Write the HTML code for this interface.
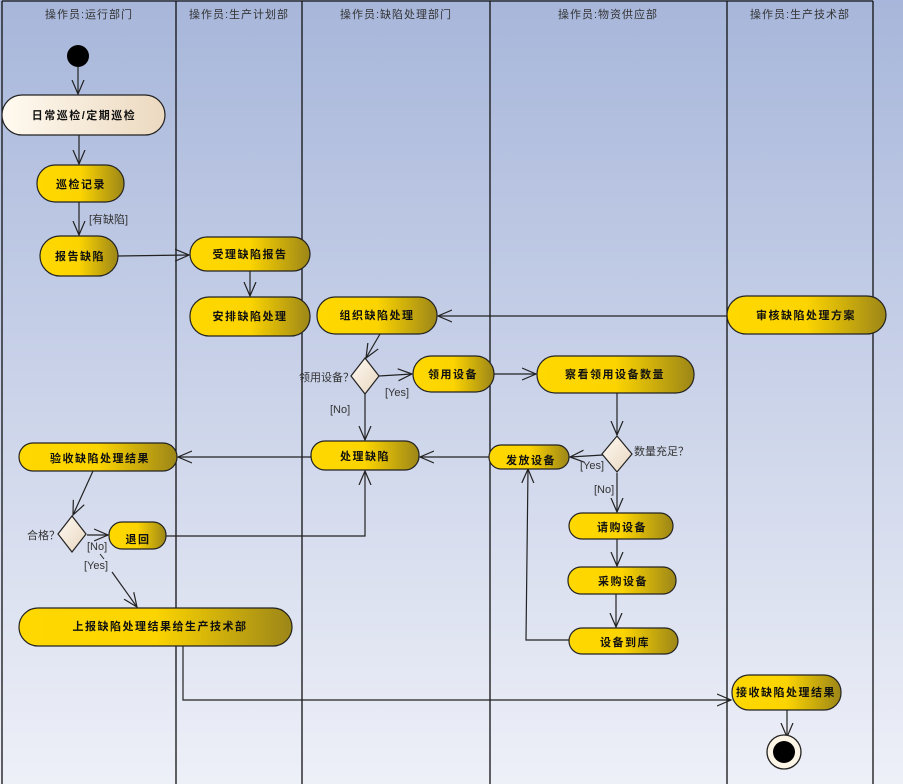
<!DOCTYPE html>
<html><head><meta charset="utf-8"><style>
html,body{margin:0;padding:0;width:903px;height:784px;overflow:hidden}
svg{display:block}
text{font-family:"Liberation Sans","Noto Sans CJK SC",sans-serif}
.n{font-size:11px;font-weight:bold;fill:#111;text-anchor:middle;letter-spacing:1.5px}
.h{font-size:11px;fill:#333;text-anchor:middle;letter-spacing:1px}
.l{font-size:11px;fill:#333}
.e{stroke:#222;stroke-width:1.2;fill:none;marker-end:url(#a)}
</style></head><body>
<svg width="903" height="784" viewBox="0 0 903 784">
<defs>
<linearGradient id="bg" x1="0" y1="0" x2="0" y2="1"><stop offset="0" stop-color="#a7b6da"/><stop offset="1" stop-color="#eef0f8"/></linearGradient>
<linearGradient id="y" x1="0" y1="0" x2="1" y2="0"><stop offset="0" stop-color="#ffd800"/><stop offset="0.5" stop-color="#fcd400"/><stop offset="1" stop-color="#9c8618"/></linearGradient>
<linearGradient id="c" x1="0" y1="0" x2="1" y2="0"><stop offset="0" stop-color="#fffaf0"/><stop offset="1" stop-color="#ecd9c0"/></linearGradient>
<linearGradient id="d" x1="0" y1="0" x2="1" y2="1"><stop offset="0" stop-color="#fffaf2"/><stop offset="1" stop-color="#e8d6bf"/></linearGradient>
<marker id="a" markerUnits="userSpaceOnUse" markerWidth="16" markerHeight="14" refX="14" refY="7" orient="auto"><path d="M0,1 L14,7 L0,13" fill="none" stroke="#222" stroke-width="1.2"/></marker>
</defs>
<rect width="903" height="784" fill="url(#bg)"/>
<g stroke="#111" stroke-width="1.3">
<line x1="2" y1="1" x2="873" y2="1"/>
<line x1="2" y1="1" x2="2" y2="784"/><line x1="176" y1="1" x2="176" y2="784"/><line x1="302" y1="1" x2="302" y2="784"/><line x1="490" y1="1" x2="490" y2="784"/><line x1="727" y1="1" x2="727" y2="784"/><line x1="873" y1="1" x2="873" y2="784"/>
</g>
<text class="h" x="89" y="18">操作员:运行部门</text>
<text class="h" x="239" y="18">操作员:生产计划部</text>
<text class="h" x="396" y="18">操作员:缺陷处理部门</text>
<text class="h" x="608" y="18">操作员:物资供应部</text>
<text class="h" x="800" y="18">操作员:生产技术部</text>

<!-- edges -->
<path class="e" d="M78,67 V94"/>
<path class="e" d="M79,135 V164"/>
<path class="e" d="M79,202 V235"/>
<text class="l" x="89" y="223">[有缺陷]</text>
<path class="e" d="M118,256 L189,255"/>
<path class="e" d="M250,271 V296"/>
<path class="e" d="M727,316 L438,316"/>
<path class="e" d="M380,334 L366,358"/>
<path class="e" d="M379,376 L412,374"/>
<text class="l" x="385" y="396">[Yes]</text>
<path class="e" d="M365,394 V440"/>
<text class="l" x="330" y="413">[No]</text>
<text class="l" x="299" y="381">领用设备？</text>
<path class="e" d="M494,374 L536,374"/>
<path class="e" d="M617,393 V435"/>
<text class="l" x="634" y="455">数量充足？</text>
<path class="e" d="M603,455 L570,457"/>
<text class="l" x="580" y="469">[Yes]</text>
<path class="e" d="M617,473 V512"/>
<text class="l" x="594" y="493">[No]</text>
<path class="e" d="M617,539 V566"/>
<path class="e" d="M616,594 V627"/>
<path class="e" d="M569,640 H526 L528,469"/>
<path class="e" d="M489,457 L420,457"/>
<path class="e" d="M311,457 L178,457"/>
<path class="e" d="M93,471 L73,515"/>
<text class="l" x="27" y="539">合格？</text>
<path class="e" d="M87,535 L108,535"/>
<text class="l" x="87" y="550">[No]</text>
<path class="e" d="M166,536 H365 V471"/>
<path class="e" d="M112,572 L137,607"/>
<text class="l" x="84" y="569">[Yes]</text>
<line x1="100" y1="554" x2="104" y2="559" stroke="#222"/>
<path class="e" d="M183,646 V700 H731"/>
<path class="e" d="M787,710 V737"/>

<!-- start/end -->
<circle cx="78" cy="56" r="11" fill="#000"/>
<circle cx="784" cy="752" r="17" fill="#fdf5e6" stroke="#222" stroke-width="1.3"/>
<circle cx="784" cy="752" r="11" fill="#000"/>

<!-- diamonds -->
<polygon points="365,358 379,376 365,394 351,376" fill="url(#d)" stroke="#222" stroke-width="1.2"/>
<polygon points="617,436 632,454 617,472 602,454" fill="url(#d)" stroke="#222" stroke-width="1.2"/>
<polygon points="72,516 86,534 72,552 58,534" fill="url(#d)" stroke="#222" stroke-width="1.2"/>

<!-- nodes -->
<g stroke="#222" stroke-width="1.2">
<rect x="2" y="95" width="163" height="40" rx="20" fill="url(#c)"/>
<rect x="37" y="165" width="87" height="37" rx="18" fill="url(#y)"/>
<rect x="40" y="236" width="78" height="40" rx="20" fill="url(#y)"/>
<rect x="190" y="237" width="120" height="34" rx="17" fill="url(#y)"/>
<rect x="190" y="297" width="120" height="39" rx="19" fill="url(#y)"/>
<rect x="317" y="297" width="120" height="37" rx="18" fill="url(#y)"/>
<rect x="727" y="296" width="159" height="38" rx="19" fill="url(#y)"/>
<rect x="413" y="356" width="81" height="36" rx="18" fill="url(#y)"/>
<rect x="537" y="356" width="157" height="37" rx="18" fill="url(#y)"/>
<rect x="489" y="445" width="80" height="24" rx="12" fill="url(#y)"/>
<rect x="311" y="441" width="108" height="29" rx="14" fill="url(#y)"/>
<rect x="19" y="443" width="158" height="28" rx="14" fill="url(#y)"/>
<rect x="109" y="522" width="57" height="27" rx="13" fill="url(#y)"/>
<rect x="569" y="513" width="104" height="26" rx="13" fill="url(#y)"/>
<rect x="568" y="567" width="108" height="27" rx="13" fill="url(#y)"/>
<rect x="569" y="628" width="109" height="26" rx="13" fill="url(#y)"/>
<rect x="19" y="608" width="273" height="38" rx="19" fill="url(#y)"/>
<rect x="732" y="675" width="109" height="35" rx="17" fill="url(#y)"/>
</g>
<text class="n" x="84" y="119">日常巡检/定期巡检</text>
<text class="n" x="81" y="188">巡检记录</text>
<text class="n" x="80" y="260">报告缺陷</text>
<text class="n" x="250" y="258">受理缺陷报告</text>
<text class="n" x="250" y="320">安排缺陷处理</text>
<text class="n" x="377" y="319">组织缺陷处理</text>
<text class="n" x="806" y="319">审核缺陷处理方案</text>
<text class="n" x="453" y="378">领用设备</text>
<text class="n" x="615" y="378">察看领用设备数量</text>
<text class="n" x="531" y="464">发放设备</text>
<text class="n" x="365" y="460">处理缺陷</text>
<text class="n" x="100" y="462">验收缺陷处理结果</text>
<text class="n" x="138" y="543">退回</text>
<text class="n" x="622" y="531">请购设备</text>
<text class="n" x="623" y="585">采购设备</text>
<text class="n" x="625" y="646">设备到库</text>
<text class="n" x="160" y="630">上报缺陷处理结果给生产技术部</text>
<text class="n" x="786" y="696">接收缺陷处理结果</text>
</svg>
</body></html>
